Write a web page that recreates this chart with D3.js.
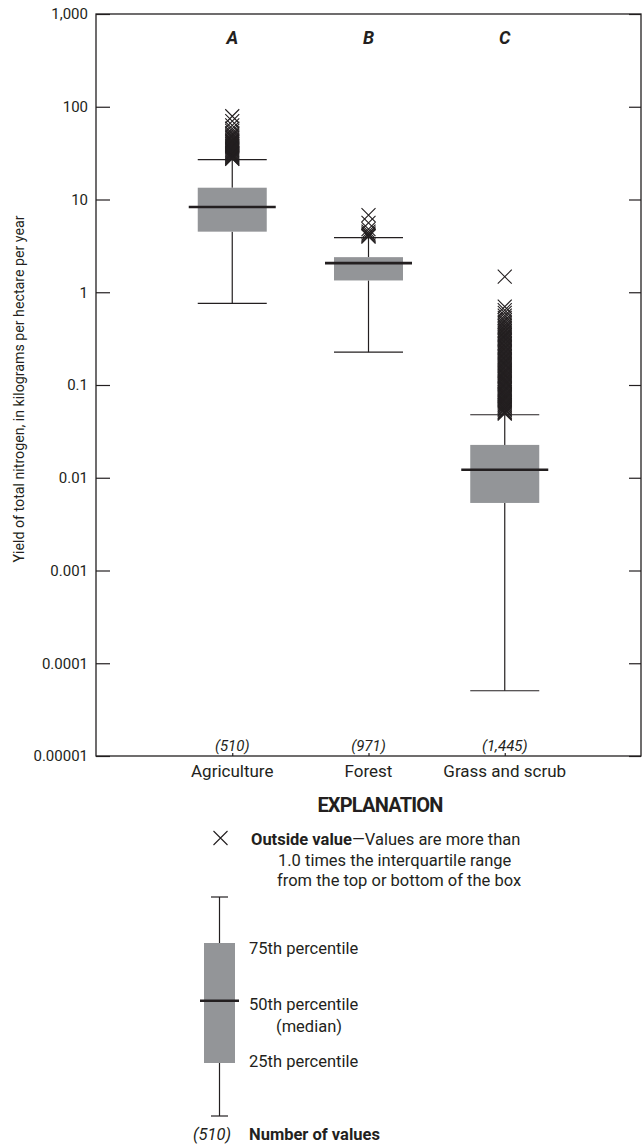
<!DOCTYPE html>
<html><head><meta charset="utf-8">
<script src="https://cdn.jsdelivr.net/npm/d3@7"></script>
<style>
html,body{margin:0;padding:0;background:#fff;}
svg{display:block;font-family:Roboto,"Liberation Sans",sans-serif;}
</style>
</head><body>
<svg id="chart" width="642" height="1147"></svg>
<script>
// ---------- data ----------
const categories = ["Agriculture", "Forest", "Grass and scrub"];
const letters = ["A", "B", "C"];
const countLabels = ["(510)", "(971)", "(1,445)"];
const whiskerLow = [0.76, 0.226, 0.0000505];
const q1 = [4.5, 1.34, 0.00535];
const median = [8.3, 2.06, 0.0122];
const q3 = [13.4, 2.39, 0.0226];
const whiskerHigh = [26.9, 3.88, 0.0478];
const outliersAgriculture = [79, 70, 63, 58, 55, 52, 50, 48.5, 47, 45.5, 44, 43, 42, 41, 40, 39, 38, 37.2, 36.4, 35.6, 34.8, 34, 33.3, 32.6, 31.9, 31.2, 30.6, 30, 29.4, 28.8, 28.3, 27.8, 27.4];
const outliersForest = [6.8, 5.6, 4.8, 4.5, 4.3, 4.15, 4.05, 3.98];
const outliersGrass = [1.47, 0.70, 0.64, 0.60, 0.56, 0.53, 0.50, 0.48, 0.46, 0.44, 0.425, 0.41, 0.395, 0.38, 0.37, 0.355, 0.345, 0.335, 0.325, 0.315, 0.305, 0.295, 0.285, 0.275, 0.265, 0.257, 0.249, 0.241, 0.233, 0.226, 0.219, 0.212, 0.205, 0.199, 0.193, 0.187, 0.181, 0.175, 0.17, 0.165, 0.16, 0.155, 0.15, 0.145, 0.141, 0.137, 0.133, 0.129, 0.125, 0.121, 0.117, 0.114, 0.111, 0.108, 0.105, 0.102, 0.099, 0.096, 0.093, 0.09, 0.088, 0.085, 0.083, 0.08, 0.078, 0.076, 0.074, 0.072, 0.07, 0.068, 0.066, 0.064, 0.062, 0.061, 0.059, 0.058, 0.056, 0.055, 0.054, 0.052, 0.051, 0.05, 0.049];
const tickValues = [1000, 100, 10, 1, 0.1, 0.01, 0.001, 0.0001, 0.00001];
const tickLabels = ["1,000", "100", "10", "1", "0.1", "0.01", "0.001", "0.0001", "0.00001"];
const yTitle = "Yield of total nitrogen, in kilograms per hectare per year";

// ---------- layout ----------
const INK = "#231f20", BOX = "#939598";
const plotLeft = 96, plotRight = 641, plotTop = 14, plotBottom = 756;
const svg = d3.select("#chart");

const x = d3.scalePoint().domain(categories).range([plotLeft, plotRight]).padding(1);
const y = d3.scaleLog().domain([1e-5, 1e3]).range([plotBottom, plotTop]);

const boxes = categories.map((c, i) => ({
  cat: c, letter: letters[i], count: countLabels[i],
  lo: whiskerLow[i], q1: q1[i], med: median[i], q3: q3[i], hi: whiskerHigh[i],
  out: [outliersAgriculture, outliersForest, outliersGrass][i]
}));

// axes
const gL = svg.append("g").attr("transform", `translate(${plotLeft},0)`)
  .call(d3.axisLeft(y).tickValues(tickValues).tickFormat((d, i) => tickLabels[i]).tickSizeInner(-14).tickSizeOuter(0).tickPadding(8));
const gR = svg.append("g").attr("transform", `translate(${plotRight},0)`)
  .call(d3.axisRight(y).tickValues(tickValues).tickFormat("").tickSizeInner(-12).tickSizeOuter(0));
const gB = svg.append("g").attr("transform", `translate(0,${plotBottom})`)
  .call(d3.axisBottom(x).tickFormat("").tickSizeInner(-3).tickSizeOuter(0));
[gL, gR, gB].forEach(g => {
  g.select(".domain").remove();
  g.selectAll("line").attr("stroke", INK).attr("stroke-width", 1.2);
});
gL.selectAll("text").attr("font-size", 15).attr("fill", INK).attr("font-family", "Roboto");

svg.append("rect").attr("x", plotLeft).attr("y", plotTop).attr("width", plotRight - plotLeft).attr("height", plotBottom - plotTop)
  .attr("fill", "none").attr("stroke", INK).attr("stroke-width", 1.3);

// y title
svg.append("text").attr("transform", `translate(24,${(plotTop + plotBottom) / 2 + 4}) rotate(-90)`)
  .attr("text-anchor", "middle").attr("font-size", 14.2).attr("fill", INK).text(yTitle);

// boxes
const boxHalf = 34.5, medHalf = 43.5, capHalf = 34.5, mk = 7;
const g = svg.selectAll("g.box").data(boxes).join("g").attr("class", "box");
g.append("line").attr("x1", d => x(d.cat)).attr("x2", d => x(d.cat))
  .attr("y1", d => y(d.hi)).attr("y2", d => y(d.q3)).attr("stroke", INK).attr("stroke-width", 1.2);
g.append("line").attr("x1", d => x(d.cat)).attr("x2", d => x(d.cat))
  .attr("y1", d => y(d.q1)).attr("y2", d => y(d.lo)).attr("stroke", INK).attr("stroke-width", 1.2);
g.append("line").attr("x1", d => x(d.cat) - capHalf).attr("x2", d => x(d.cat) + capHalf)
  .attr("y1", d => y(d.hi)).attr("y2", d => y(d.hi)).attr("stroke", INK).attr("stroke-width", 1.2);
g.append("line").attr("x1", d => x(d.cat) - capHalf).attr("x2", d => x(d.cat) + capHalf)
  .attr("y1", d => y(d.lo)).attr("y2", d => y(d.lo)).attr("stroke", INK).attr("stroke-width", 1.2);
g.append("rect").attr("x", d => x(d.cat) - boxHalf).attr("width", boxHalf * 2)
  .attr("y", d => y(d.q3)).attr("height", d => y(d.q1) - y(d.q3)).attr("fill", BOX);
g.append("line").attr("x1", d => x(d.cat) - medHalf).attr("x2", d => x(d.cat) + medHalf)
  .attr("y1", d => y(d.med)).attr("y2", d => y(d.med)).attr("stroke", INK).attr("stroke-width", 2.6);
g.selectAll("path.out").data(d => d.out.map(v => ({ cx: x(d.cat), cy: y(v) }))).join("path")
  .attr("class", "out")
  .attr("d", p => `M${p.cx - mk},${p.cy - mk}L${p.cx + mk},${p.cy + mk}M${p.cx - mk},${p.cy + mk}L${p.cx + mk},${p.cy - mk}`)
  .attr("stroke", INK).attr("stroke-width", 1.1).attr("fill", "none");

// letters, counts, category labels
svg.selectAll("text.letter").data(boxes).join("text").attr("class", "letter")
  .attr("x", d => x(d.cat)).attr("y", 44).attr("text-anchor", "middle")
  .attr("font-size", 18).attr("font-weight", "bold").attr("font-style", "italic").attr("fill", INK).text(d => d.letter);
svg.selectAll("text.count").data(boxes).join("text").attr("class", "count")
  .attr("x", d => x(d.cat)).attr("y", 751).attr("text-anchor", "middle")
  .attr("font-size", 15).attr("font-style", "italic").attr("fill", INK).text(d => d.count);
svg.selectAll("text.cat").data(boxes).join("text").attr("class", "cat")
  .attr("x", d => x(d.cat)).attr("y", 777).attr("text-anchor", "middle")
  .attr("font-size", 17).attr("fill", INK).text(d => d.cat);

// ---------- explanation ----------
svg.append("text").attr("x", 380).attr("y", 812).attr("text-anchor", "middle")
  .attr("font-size", 20).attr("font-weight", "bold").attr("letter-spacing", -0.8).attr("fill", INK).text("EXPLANATION");

const lx = 220.5, ly = 838;
svg.append("path").attr("d", `M${lx - 7},${ly - 7}L${lx + 7},${ly + 7}M${lx - 7},${ly + 7}L${lx + 7},${ly - 7}`)
  .attr("stroke", INK).attr("stroke-width", 1.1).attr("fill", "none");
const t1 = svg.append("text").attr("x", 251).attr("y", 845).attr("font-size", 16.5).attr("fill", INK);
t1.append("tspan").attr("font-weight", "bold").text("Outside value");
t1.append("tspan").text("\u2014Values are more than");
svg.append("text").attr("x", 278).attr("y", 866).attr("font-size", 16.5).attr("fill", INK).text("1.0 times the interquartile range");
svg.append("text").attr("x", 277).attr("y", 886).attr("font-size", 16.5).attr("fill", INK).text("from the top or bottom of the box");

const bx = 219.5;
const lg = svg.append("g");
lg.append("line").attr("x1", bx).attr("x2", bx).attr("y1", 897).attr("y2", 943).attr("stroke", INK).attr("stroke-width", 1.2);
lg.append("line").attr("x1", bx).attr("x2", bx).attr("y1", 1063).attr("y2", 1116).attr("stroke", INK).attr("stroke-width", 1.2);
lg.append("line").attr("x1", bx - 8.5).attr("x2", bx + 8.5).attr("y1", 897).attr("y2", 897).attr("stroke", INK).attr("stroke-width", 1.2);
lg.append("line").attr("x1", bx - 8.5).attr("x2", bx + 8.5).attr("y1", 1116).attr("y2", 1116).attr("stroke", INK).attr("stroke-width", 1.2);
lg.append("rect").attr("x", bx - 15.5).attr("width", 31).attr("y", 943).attr("height", 120).attr("fill", BOX);
lg.append("line").attr("x1", bx - 19.5).attr("x2", bx + 19.5).attr("y1", 1000.7).attr("y2", 1000.7).attr("stroke", INK).attr("stroke-width", 2.6);

const lt = (xx, yy, s) => svg.append("text").attr("x", xx).attr("y", yy).attr("font-size", 16.5).attr("fill", INK).text(s);
lt(249, 954, "75th percentile");
lt(249, 1010, "50th percentile");
lt(276, 1032, "(median)");
lt(249, 1067, "25th percentile");
lt(231, 1140, "(510)").attr("text-anchor", "end").attr("font-style", "italic");
lt(249, 1140, "Number of values").attr("font-weight", "bold");
</script>
</body></html>
